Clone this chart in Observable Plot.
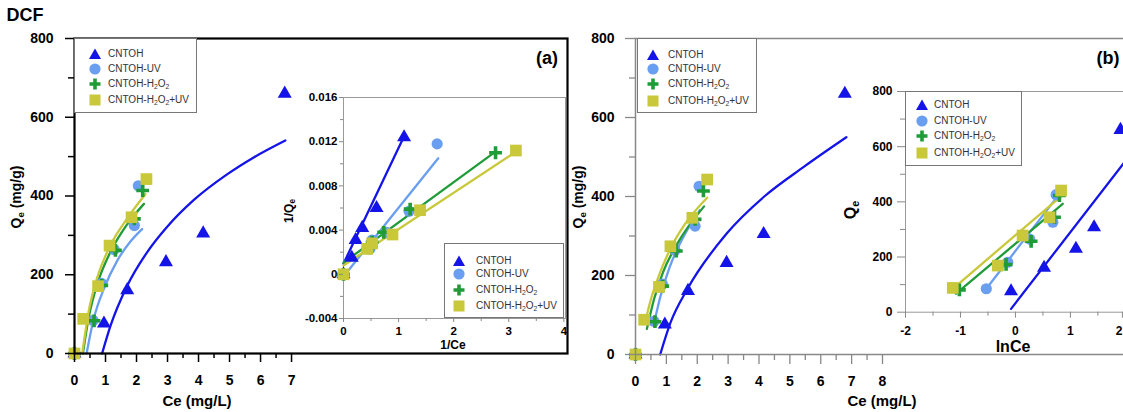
<!DOCTYPE html>
<html><head><meta charset="utf-8">
<script src="https://cdn.jsdelivr.net/npm/d3@7"></script>
<script src="https://cdn.jsdelivr.net/npm/@observablehq/plot@0.6"></script>
<style>
body{margin:0;background:#fff;}
#root{position:relative;width:1123px;height:412px;overflow:hidden;font-family:"Liberation Sans",Arial,sans-serif;background:#fff;}
#root svg{position:absolute;}
.t{position:absolute;font-weight:bold;color:#000;white-space:nowrap;line-height:1;}
.leg{position:absolute;background:#fff;border:1px solid #777;box-sizing:border-box;}
.legtxt{position:absolute;font-size:10px;color:#333;white-space:nowrap;line-height:1;transform:translateY(-50%);}
sub{font-size:0.68em;vertical-align:-0.3em;line-height:0;}
</style>
</head><body><div id="root"></div>
<script>
// ---------- series ----------
const seriesLabels = ["CNTOH", "CNTOH-UV", "CNTOH-H<sub>2</sub>O<sub>2</sub>", "CNTOH-H<sub>2</sub>O<sub>2</sub>+UV"];
const seriesColors = ["#1414e8", "#6a9ef0", "#1f9c38", "#c8c83a"];
const seriesSymbols = ["triangle", "circle", "plus", "square"];

// ---------- main isotherm data: Ce (mg/L), Qe (mg/g) ----------
const ceCNTOH = [0, 0.95, 1.70, 2.95, 4.15, 6.78];
const qeCNTOH = [0, 76, 161, 232, 305, 660];
const ceUV    = [0, 0.60, 0.87, 1.28, 1.93, 2.06];
const qeUV    = [0, 84, 178, 264, 325, 426];
const ceH2O2  = [0, 0.63, 0.88, 1.32, 1.93, 2.20];
const qeH2O2  = [0, 83, 173, 262, 342, 414];
const ceMix   = [0, 0.28, 0.76, 1.13, 1.84, 2.32];
const qeMix   = [0, 88, 171, 274, 346, 443];

// ---------- panel (a) fitted curves ----------
const fitA_ceCNTOH = [0.89, 1.16, 1.70, 2.34, 2.99, 3.85, 4.92, 5.78, 6.80];
const fitA_qeCNTOH = [0, 70, 172, 257, 322, 390, 455, 498, 541];
const fitA_ceUV    = [0.39, 0.62, 0.95, 1.38, 1.81, 2.18];
const fitA_qeUV    = [0, 88, 165, 236, 285, 316];
const fitA_ceH2O2  = [0.27, 0.46, 0.73, 1.16, 1.70, 2.24];
const fitA_qeH2O2  = [0, 92, 175, 258, 328, 380];
const fitA_ceMix   = [0.25, 0.46, 0.73, 1.16, 1.70, 2.29];
const fitA_qeMix   = [0, 108, 192, 275, 343, 405];

// ---------- panel (b) fitted curves ----------
const fitB_ceCNTOH = [0.80, 1.13, 1.69, 2.94, 4.17, 5.45, 6.83];
const fitB_qeCNTOH = [0, 80, 167, 305, 400, 475, 550];
const fitB_ceUV    = [0.59, 0.80, 1.10, 1.50, 2.08];
const fitB_qeUV    = [75, 145, 220, 290, 365];
const fitB_ceH2O2  = [0.37, 0.60, 0.90, 1.35, 2.22];
const fitB_qeH2O2  = [65, 140, 210, 280, 375];
const fitB_ceMix   = [0.30, 0.50, 0.75, 1.13, 1.60, 2.32];
const fitB_qeMix   = [78, 140, 198, 268, 330, 397];

// ---------- inset (a): 1/Ce vs 1/Qe ----------
const invCeCNTOH = [0, 0.15, 0.22, 0.34, 0.60, 1.10];
const invQeCNTOH = [0, 0.0015, 0.0031, 0.0042, 0.0060, 0.0124];
const invCeUV    = [0, 0.48, 0.52, 0.78, 1.19, 1.70];
const invQeUV    = [0, 0.0023, 0.0031, 0.0038, 0.0057, 0.0118];
const invCeH2O2  = [0, 0.45, 0.52, 0.73, 1.21, 2.76];
const invQeH2O2  = [0, 0.0024, 0.0029, 0.0038, 0.0059, 0.0110];
const invCeMix   = [0, 0.43, 0.52, 0.89, 1.39, 3.13];
const invQeMix   = [0, 0.0023, 0.0028, 0.0036, 0.0058, 0.0112];
// inset (a) fitted lines (end points)
const linA_xCNTOH = [0, 1.10],  linA_yCNTOH = [0.00096, 0.0125];
const linA_xUV    = [0, 1.72],  linA_yUV    = [-0.0002, 0.0105];
const linA_xH2O2  = [0, 2.76],  linA_yH2O2  = [0.00105, 0.0111];
const linA_xMix   = [0, 3.13],  linA_yMix   = [0.0008, 0.0111];

// ---------- inset (b): lnCe vs Qe ----------
const lnCeCNTOH = [-0.08, 0.52, 1.10, 1.43, 1.91];
const qeLnCNTOH = [76, 161, 230, 308, 661];
const lnCeUV    = [-0.53, -0.14, 0.26, 0.68, 0.74];
const qeLnUV    = [85, 181, 265, 326, 426];
const lnCeH2O2  = [-1.02, -0.17, 0.285, 0.71, 0.80];
const qeLnH2O2  = [81, 173, 257, 344, 423];
const lnCeMix   = [-1.14, -0.32, 0.13, 0.62, 0.83];
const qeLnMix   = [88, 169, 278, 344, 441];
// inset (b) fitted lines (end points)
const linB_xCNTOH = [-0.08, 1.98], linB_yCNTOH = [12, 543];
const linB_xUV    = [-0.52, 0.76], linB_yUV    = [88, 418];
const linB_xH2O2  = [-1.08, 0.86], linB_yH2O2  = [67, 393];
const linB_xMix   = [-1.14, 0.83], linB_yMix   = [85, 420];

// ---------- tick values ----------
const mainYTicks = [0, 200, 400, 600, 800];
const mainYMinor = [100, 300, 500, 700];
const mainXTicksA = [0, 1, 2, 3, 4, 5, 6, 7];
const mainXMinorA = [0.5, 1.5, 2.5, 3.5, 4.5, 5.5, 6.5];
const mainXTicksB = [0, 1, 2, 3, 4, 5, 6, 7, 8];
const mainXMinorB = [0.5, 1.5, 2.5, 3.5, 4.5, 5.5, 6.5, 7.5];
const insetAYTicks = [-0.004, 0, 0.004, 0.008, 0.012, 0.016];
const insetAYMinor = [-0.002, 0.002, 0.006, 0.010, 0.014];
const insetAXTicks = [0, 1, 2, 3, 4];
const insetAXMinor = [0.5, 1.5, 2.5, 3.5];
const insetBYTicks = [0, 200, 400, 600, 800];
const insetBYMinor = [100, 300, 500, 700];
const insetBXTicks = [-2, -1, 0, 1];
const insetBXEdgeTick = [2];
const insetBXMinor = [-1.5, -0.5, 0.5, 1.5];

// ---------- helpers ----------
const FONT = "'Liberation Sans', Arial, sans-serif";
const root = document.getElementById("root");
const zip = (xs, ys) => xs.map((x, i) => ({x, y: ys[i]}));

function dotMark(data, k, scale = 1) {
  const sym = seriesSymbols[k], col = seriesColors[k];
  if (sym === "plus") return Plot.dot(data, {x: "x", y: "y", symbol: "plus", stroke: col, strokeWidth: 3.6 * scale, r: 4.2 * scale});
  const r = {triangle: 5.2, circle: 5.6, square: 6.6}[sym] * scale;
  return Plot.dot(data, {x: "x", y: "y", symbol: sym, fill: col, r});
}
function lineMark(data, k, curve = "monotone-x") {
  return Plot.line(data, {x: "x", y: "y", stroke: seriesColors[k], strokeWidth: 2.3, curve});
}
function axes({xt, xm, yt, ym, color, fs, xSize, xMinSize, xPad, ySize, yMinSize, yPad, xFmt, yFmt, sw}) {
  const common = {label: null, stroke: color, fill: "#000", fontWeight: "bold", fontSize: fs, strokeWidth: sw};
  return [
    Plot.axisX(xt, {...common, tickSize: xSize, tickPadding: xPad, tickFormat: xFmt || (d => String(d))}),
    Plot.axisX(xm, {...common, tickSize: xMinSize, tickFormat: () => ""}),
    Plot.axisY(yt, {...common, tickSize: ySize, tickPadding: yPad, tickFormat: yFmt || (d => String(d))}),
    Plot.axisY(ym, {...common, tickSize: yMinSize, tickFormat: () => ""})
  ];
}
function place(svg, left, top) {
  svg.style.left = left + "px"; svg.style.top = top + "px";
  root.appendChild(svg);
}
function text(html, cx, cy, size, rotate = 0) {
  const d = document.createElement("div");
  d.className = "t";
  d.innerHTML = html;
  d.style.fontSize = size + "px";
  d.style.left = cx + "px"; d.style.top = cy + "px";
  d.style.transform = `translate(-50%,-50%)` + (rotate ? ` rotate(${rotate}deg)` : "");
  root.appendChild(d);
}
function markerSVG(k) {
  const c = seriesColors[k];
  const shapes = [
    `<polygon points="7,1.5 13,12 1,12" fill="${c}"/>`,
    `<circle cx="7" cy="7" r="5.6" fill="${c}"/>`,
    `<path d="M1.5,7H12.5M7,1.5V12.5" stroke="${c}" stroke-width="3.6"/>`,
    `<rect x="1.5" y="1.5" width="11" height="11" fill="${c}"/>`
  ];
  return `<svg width="14" height="14" viewBox="0 0 14 14" style="position:absolute">${shapes[k]}</svg>`;
}
function legend(left, top, w, h, rows, mx, tx) {
  const box = document.createElement("div");
  box.className = "leg";
  Object.assign(box.style, {left: left + "px", top: top + "px", width: w + "px", height: h + "px"});
  let html = "";
  seriesLabels.forEach((lab, k) => {
    html += `<div style="position:absolute;left:${mx - 7}px;top:${rows[k] - 7}px;width:14px;height:14px">${markerSVG(k)}</div>`;
    html += `<div class="legtxt" style="left:${tx}px;top:${rows[k]}px">${lab}</div>`;
  });
  box.innerHTML = html;
  root.appendChild(box);
}

const mainSets = [zip(ceCNTOH, qeCNTOH), zip(ceUV, qeUV), zip(ceH2O2, qeH2O2), zip(ceMix, qeMix)];
const fitsA = [zip(fitA_ceCNTOH, fitA_qeCNTOH), zip(fitA_ceUV, fitA_qeUV), zip(fitA_ceH2O2, fitA_qeH2O2), zip(fitA_ceMix, fitA_qeMix)];
const fitsB = [zip(fitB_ceCNTOH, fitB_qeCNTOH), zip(fitB_ceUV, fitB_qeUV), zip(fitB_ceH2O2, fitB_qeH2O2), zip(fitB_ceMix, fitB_qeMix)];
const insetASets = [zip(invCeCNTOH, invQeCNTOH), zip(invCeUV, invQeUV), zip(invCeH2O2, invQeH2O2), zip(invCeMix, invQeMix)];
const insetALines = [zip(linA_xCNTOH, linA_yCNTOH), zip(linA_xUV, linA_yUV), zip(linA_xH2O2, linA_yH2O2), zip(linA_xMix, linA_yMix)];
const insetBSets = [zip(lnCeCNTOH, qeLnCNTOH), zip(lnCeUV, qeLnUV), zip(lnCeH2O2, qeLnH2O2), zip(lnCeMix, qeLnMix)];
const insetBLines = [zip(linB_xCNTOH, linB_yCNTOH), zip(linB_xUV, linB_yUV), zip(linB_xH2O2, linB_yH2O2), zip(linB_xMix, linB_yMix)];

// ---------- panel (a) main ----------
place(Plot.plot({
  width: 600, height: 412, marginLeft: 74, marginRight: 33, marginTop: 38, marginBottom: 59,
  x: {domain: [0, 15.9], label: null}, y: {domain: [0, 800], label: null},
  style: {background: "none", fontFamily: FONT, overflow: "visible"},
  marks: [
    ...fitsA.map((d, k) => lineMark(d, k)),
    ...mainSets.map((d, k) => dotMark(d, k)),
    ...axes({xt: mainXTicksA, xm: mainXMinorA, yt: mainYTicks, ym: mainYMinor, color: "#000", fs: 14, sw: 1.5,
      xSize: 9, xMinSize: 5, xPad: 13, ySize: 9, yMinSize: 6, yPad: 12}),
    Plot.frame({stroke: "#000", strokeWidth: 2.2})
  ]
}), 0, 0);

// ---------- panel (b) main ----------
place(Plot.plot({
  width: 600, height: 412, marginLeft: 74, marginRight: 32, marginTop: 38, marginBottom: 58,
  x: {domain: [0, 16], label: null}, y: {domain: [0, 800], label: null},
  style: {background: "none", fontFamily: FONT, overflow: "visible"},
  marks: [
    ...fitsB.map((d, k) => lineMark(d, k)),
    ...mainSets.map((d, k) => dotMark(d, k)),
    ...axes({xt: mainXTicksB, xm: mainXMinorB, yt: mainYTicks, ym: mainYMinor, color: "#888", fs: 14, sw: 1.3,
      xSize: 10, xMinSize: 6, xPad: 12, ySize: 10, yMinSize: 6, yPad: 11}),
    Plot.frame({stroke: "#888", strokeWidth: 1.5})
  ]
}), 561, 0);

// ---------- inset (a) ----------
place(Plot.plot({
  width: 310, height: 280, marginLeft: 73, marginRight: 15, marginTop: 17, marginBottom: 42,
  x: {domain: [0, 4.03], label: null}, y: {domain: [-0.004, 0.016], label: null},
  style: {background: "none", fontFamily: FONT, overflow: "visible"},
  marks: [
    Plot.frame({fill: "#fff", stroke: "#999", strokeWidth: 1}),
    ...insetALines.map((d, k) => lineMark(d, k, "linear")),
    ...insetASets.map((d, k) => dotMark(d, k)),
    ...axes({xt: insetAXTicks, xm: insetAXMinor, yt: insetAYTicks, ym: insetAYMinor, color: "#888", fs: 11.5, sw: 1,
      xSize: 4, xMinSize: 3, xPad: 4, ySize: 4, yMinSize: 3, yPad: 2,
      yFmt: d => d === 0 ? "0" : d.toFixed(3)})
  ]
}), 270, 80);

// ---------- inset (b) ----------
place(Plot.plot({
  width: 300, height: 290, marginLeft: 65, marginRight: 14, marginTop: 21, marginBottom: 48.3,
  x: {domain: [-2, 2.02], label: null}, y: {domain: [0, 800], label: null},
  style: {background: "none", fontFamily: FONT, overflow: "visible"},
  marks: [
    Plot.frame({fill: "#fff", stroke: "#999", strokeWidth: 1}),
    ...insetBLines.map((d, k) => lineMark(d, k, "linear")),
    ...insetBSets.map((d, k) => dotMark(d, k)),
    ...axes({xt: insetBXTicks, xm: insetBXMinor, yt: insetBYTicks, ym: insetBYMinor, color: "#888", fs: 12, sw: 1,
      xSize: 6, xMinSize: 4, xPad: 8, ySize: 8, yMinSize: 5, yPad: 5}),
    Plot.axisX(insetBXEdgeTick, {label: null, stroke: "#888", fill: "#000", fontWeight: "bold", fontSize: 12, strokeWidth: 1,
      tickSize: 6, tickPadding: 8, textAnchor: "end", dx: -3, tickFormat: d => String(d)})
  ]
}), 840, 70);

// ---------- legends ----------
legend(74, 38, 123, 75, [15, 30, 45, 61], 20, 33);
legend(637, 38, 120, 75, [16, 30, 45, 62], 15, 30);
legend(444, 243, 120, 75, [17, 30, 46, 62], 14, 31);
legend(905, 91, 117, 75, [13, 29, 44, 61], 16, 28);

// ---------- texts ----------
text("DCF", 25, 15, 18);
text("(a)", 547, 58, 18);
text("(b)", 1108, 58, 18);
text("Q<sub>e</sub> (mg/g)", 16, 197, 14, -90);
text("Ce (mg/L)", 197, 400, 15);
text("Q<sub>e</sub> (mg/g)", 578, 197, 14, -90);
text("Ce (mg/L)", 882, 400, 15);
text("1/Q<sub>e</sub>", 289, 211, 12, -90);
text("1/Ce", 453, 345, 12);
text("Q<sub>e</sub>", 851, 210, 16, -90);
text("lnCe", 1013, 347, 16);
</script></body></html>
